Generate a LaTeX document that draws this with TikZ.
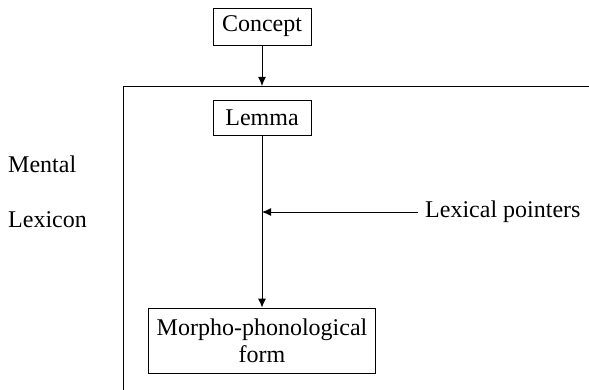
\documentclass[tikz,border=0pt]{standalone}
\usepackage{fontspec}
\setmainfont{Liberation Serif}
\usetikzlibrary{arrows.meta}
\begin{document}
\begin{tikzpicture}[x=1pt,y=-1pt,
  box/.style={draw,line width=0.9pt,inner sep=0pt,align=center,font=\fontsize{24}{27}\selectfont},
  lbl/.style={inner sep=0pt,font=\fontsize{24}{27}\selectfont},
  conn/.style={line width=0.9pt,-{Latex[length=9pt,width=8pt]}}]
\useasboundingbox (0,0) rectangle (589,390);
% mental lexicon frame
\coordinate (fbl) at (123,392);
\coordinate (ftl) at (123,86);
\coordinate (ftr) at (592,86);
\draw[line width=0.9pt] (fbl) -- (ftl) -- (ftr);
\node[box,minimum width=98pt,minimum height=37pt] (concept) at (262,26.5) {Concept};
\node[box,minimum width=98pt,minimum height=35pt] (lemma) at (262,117.5) {Lemma};
\node[box,minimum width=227pt,minimum height=65pt] (morph) at (262,340.5) {Morpho-phonological\\form};
\coordinate (ftop) at (262,86);
\coordinate (j) at (262,212);
\node[lbl,anchor=west] (lp) at (425,212) {Lexical pointers};
\coordinate (lpend) at (418,212);
\node[lbl,anchor=base west] (mental) at (8,173) {Mental};
\node[lbl,anchor=base west] (lexicon) at (8,228) {Lexicon};
\draw[conn] (concept) -- (ftop);
\draw[conn] (lemma) -- (morph);
\draw[conn] (lpend) -- (j);
\end{tikzpicture}
\end{document}
